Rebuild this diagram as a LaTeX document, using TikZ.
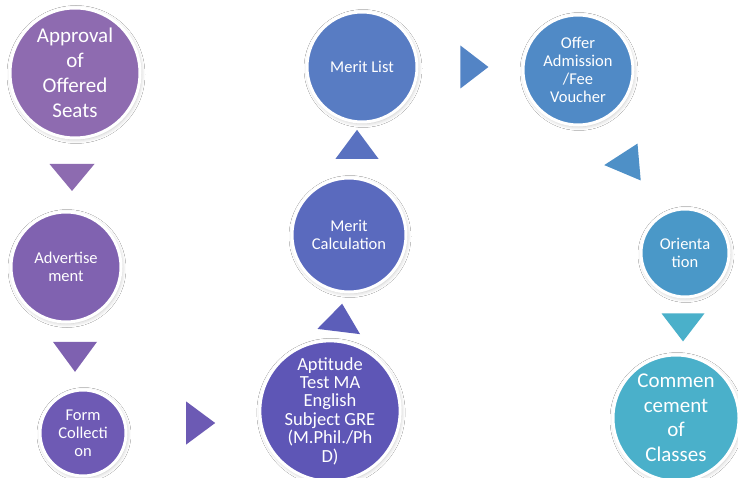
\documentclass[tikz,border=0pt]{standalone}
\usepackage{fontspec}
\setmainfont{Carlito}
\usepackage{xcolor}
\usetikzlibrary{shapes.geometric,shadows.blur}

\definecolor{cApprov}{HTML}{8E6BB0}
\definecolor{cAdv}{HTML}{8062B0}
\definecolor{cForm}{HTML}{6E5AB4}
\definecolor{cTest}{HTML}{5E56B6}
\definecolor{cCalc}{HTML}{5A6ABE}
\definecolor{cList}{HTML}{587CC3}
\definecolor{cOffer}{HTML}{508AC6}
\definecolor{cOrient}{HTML}{4A98C8}
\definecolor{cComm}{HTML}{4AB0CA}

\begin{document}
\begin{tikzpicture}[x=1pt,y=-1pt,
    tappa/.style={circle, draw=white, line width=3pt, text=white, align=center,
        inner sep=0pt, font=\fontsize{16.5}{18}\selectfont,
        blur shadow={shadow xshift=1pt, shadow yshift=-1.5pt, shadow blur radius=4pt, shadow opacity=25}},
    freccia/.style={isosceles triangle, isosceles triangle stretches, inner sep=0pt, draw=none}]

                \useasboundingbox (0,0) rectangle (738,478);
                \fill[white] (0,0) rectangle (738,478);

                % Cerchi
                \node[tappa, fill=cApprov, minimum size=130pt, font=\fontsize{21}{25}\selectfont] (approv) at (75,73) {Approval\\of\\Offered\\Seats};
                \node[tappa, fill=cAdv, minimum size=110pt] (adv) at (66,267) {Advertise\\ment};
                \node[tappa, fill=cForm, minimum size=86pt] (form) at (83,433) {Form\\Collecti\\on};
                \node[tappa, fill=cTest, minimum size=124pt, font=\fontsize{18.5}{18.4}\selectfont] (test) at (330,411) {Aptitude\\Test MA\\English\\Subject GRE\\(M.Phil./Ph\\D)};
                \node[tappa, fill=cCalc, minimum size=114pt] (calc) at (349,235) {Merit\\Calculation};
                \node[tappa, fill=cList, minimum size=110pt] (list) at (362,67) {Merit List};
                \node[tappa, fill=cOffer, minimum size=110pt] (offer) at (578,70) {Offer\\Admission\\/Fee\\Voucher};
                \node[tappa, fill=cOrient, minimum size=88pt] (orient) at (685,253) {Orienta\\tion};
                \node[tappa, fill=cComm, minimum size=126pt, font=\fontsize{21}{24.5}\selectfont] (comm) at (676,418) {Commen\\cement\\of\\Classes};

                % Triangoli
                \node[freccia, fill=cApprov!95!cAdv, minimum width=45pt, minimum height=27pt, rotate=-90] (f1) at (72,174.5) {};
                \node[freccia, fill=cAdv!90!cForm, minimum width=44pt, minimum height=30pt, rotate=-90] (f2) at (75,353) {};
                \node[freccia, fill=cForm!90!cTest, minimum width=43pt, minimum height=29pt] (f3) at (197,423) {};
                \node[freccia, fill=cTest!60!cCalc, minimum width=43pt, minimum height=28pt, rotate=83] (f4) at (340,321) {};
                \node[freccia, fill=cCalc!60!cList, minimum width=43pt, minimum height=29pt, rotate=90] (f5) at (357,148) {};
                \node[freccia, fill=cList!40!cOffer, minimum width=43pt, minimum height=28pt] (f6) at (471,67) {};
                \node[freccia, fill=cOffer!60!cOrient, minimum width=37pt, minimum height=35pt, rotate=185] (f7) at (628,163) {};
                \node[freccia, fill=cComm, minimum width=43pt, minimum height=28pt, rotate=-90] (f8) at (683,324) {};

\end{tikzpicture}
\end{document}
